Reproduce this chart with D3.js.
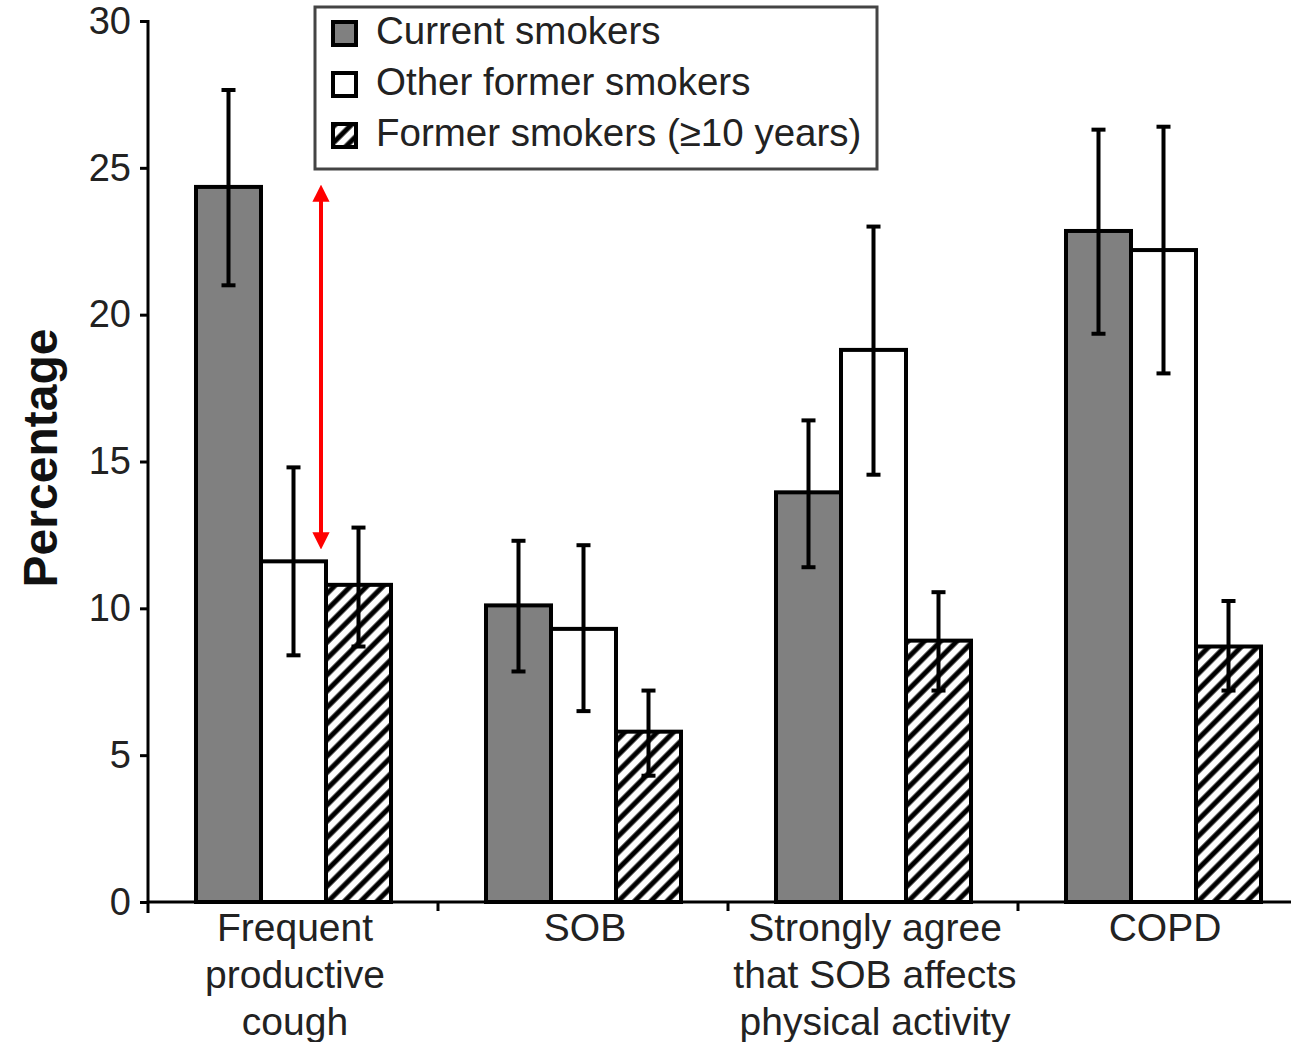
<!DOCTYPE html>
<html>
<head>
<meta charset="utf-8">
<script src="https://cdn.jsdelivr.net/npm/d3@7"></script>
<style>
  body { margin: 0; background: #fff; }
  svg { display: block; font-family: "Liberation Sans", Arial, sans-serif; }
</style>
</head>
<body>
<svg id="drawing_region"></svg>
<script>
// chart data
const categories = [
    ["Frequent", "productive", "cough"],
    ["SOB"],
    ["Strongly agree", "that SOB affects", "physical activity"],
    ["COPD"]
];
const seriesNames = ["Current smokers", "Other former smokers", "Former smokers (\u226510 years)"];
const currentVals = [24.35, 10.1, 13.95, 22.85];
const currentLow  = [21.0, 7.85, 11.4, 19.35];
const currentHigh = [27.65, 12.3, 16.4, 26.3];
const otherVals   = [11.6, 9.3, 18.8, 22.2];
const otherLow    = [8.4, 6.5, 14.55, 18.0];
const otherHigh   = [14.8, 12.15, 23.0, 26.4];
const formerVals  = [10.8, 5.8, 8.9, 8.7];
const formerLow   = [8.7, 4.3, 7.2, 7.2];
const formerHigh  = [12.75, 7.2, 10.55, 10.25];
const yTicks = [0, 5, 10, 15, 20, 25, 30];
// red double arrow (from / to, percentage) on first group
const arrowRange = [24.3, 12.2];

const config = {
    width: 1291,
    height: 1042,
    left: 148,
    right: 1308,
    top: 21,
    bottom: 902
};

const keys = ["current", "other", "former"];
const data = categories.map((c, i) => ({
    label: c,
    key: c.join(" "),
    values: [
        { s: "current", v: currentVals[i], lo: currentLow[i], hi: currentHigh[i] },
        { s: "other",   v: otherVals[i],   lo: otherLow[i],   hi: otherHigh[i] },
        { s: "former",  v: formerVals[i],  lo: formerLow[i],  hi: formerHigh[i] }
    ]
}));

const fills = { current: "#808080", other: "#ffffff", former: "url(#hatch)" };

const svg = d3.select("#drawing_region")
    .attr("width", config.width)
    .attr("height", config.height);

// hatch pattern
const hw = 11.5;
const defs = svg.append("defs");
defs.append("pattern")
    .attr("id", "hatch")
    .attr("patternUnits", "userSpaceOnUse")
    .attr("width", hw)
    .attr("height", hw)
    .attr("patternTransform", "rotate(45)")
    .call(p => {
        p.append("rect").attr("width", hw).attr("height", hw).attr("fill", "#fff");
        p.append("line").attr("x1", hw / 2).attr("y1", 0).attr("x2", hw / 2).attr("y2", hw)
            .attr("stroke", "#000").attr("stroke-width", 5);
    });
defs.append("marker")
    .attr("id", "head")
    .attr("viewBox", "0 0 10 10")
    .attr("refX", 2).attr("refY", 5)
    .attr("markerWidth", 4.3).attr("markerHeight", 4.3)
    .attr("markerUnits", "strokeWidth")
    .attr("orient", "auto-start-reverse")
    .append("path").attr("d", "M0,0 L10,5 L0,10 Z").attr("fill", "#ff0000");

const x0 = d3.scaleBand()
    .domain(data.map(d => d.key))
    .range([config.left, config.right])
    .padding(0);

const x1 = d3.scaleBand()
    .domain(keys)
    .range([48, 243])
    .padding(0);

const y = d3.scaleLinear()
    .domain([0, 30])
    .range([config.bottom, config.top]);

// bars
const groups = svg.append("g").selectAll("g")
    .data(data)
    .join("g")
    .attr("transform", d => `translate(${x0(d.key)},0)`);

groups.selectAll("rect")
    .data(d => d.values)
    .join("rect")
    .attr("x", d => x1(d.s))
    .attr("y", d => y(d.v))
    .attr("width", x1.bandwidth())
    .attr("height", d => y(0) - y(d.v))
    .attr("fill", d => fills[d.s])
    .attr("stroke", "#000")
    .attr("stroke-width", 4);

// error bars
const err = groups.selectAll("g.err")
    .data(d => d.values)
    .join("g")
    .attr("class", "err")
    .attr("stroke", "#000")
    .attr("stroke-width", 4);
const cx = d => x1(d.s) + x1.bandwidth() / 2;
err.append("line")
    .attr("x1", cx).attr("x2", cx)
    .attr("y1", d => y(d.lo)).attr("y2", d => y(d.hi));
err.append("line")
    .attr("x1", d => cx(d) - 7).attr("x2", d => cx(d) + 7)
    .attr("y1", d => y(d.hi)).attr("y2", d => y(d.hi));
err.append("line")
    .attr("x1", d => cx(d) - 7).attr("x2", d => cx(d) + 7)
    .attr("y1", d => y(d.lo)).attr("y2", d => y(d.lo));

// y axis
const yAxis = svg.append("g")
    .attr("transform", `translate(${config.left},0)`)
    .call(d3.axisLeft(y).tickValues(yTicks).tickSize(8).tickPadding(9));
yAxis.select(".domain").remove();
yAxis.append("line")
    .attr("x1", 0).attr("x2", 0)
    .attr("y1", config.top - 1).attr("y2", config.bottom + 11)
    .attr("stroke", "#000").attr("stroke-width", 3);
yAxis.selectAll(".tick line").attr("stroke-width", 3);
yAxis.selectAll(".tick text")
    .attr("font-size", 38)
    .attr("font-family", "Liberation Sans, Arial, sans-serif")
    .attr("fill", "#222");

// x axis
const xAxis = svg.append("g")
    .attr("transform", `translate(0,${config.bottom})`);
xAxis.append("line")
    .attr("x1", config.left).attr("x2", config.width)
    .attr("y1", 0).attr("y2", 0)
    .attr("stroke", "#000").attr("stroke-width", 3);
xAxis.selectAll("line.sep")
    .data(data.slice(1))
    .join("line")
    .attr("class", "sep")
    .attr("x1", d => x0(d.key)).attr("x2", d => x0(d.key))
    .attr("y1", 0).attr("y2", 9)
    .attr("stroke", "#000").attr("stroke-width", 3);

const catLabels = xAxis.selectAll("text.cat")
    .data(data)
    .join("text")
    .attr("class", "cat")
    .attr("text-anchor", "middle")
    .attr("font-size", 39)
    .attr("fill", "#222");
catLabels.selectAll("tspan")
    .data(d => d.label.map(t => ({ t, x: x0(d.key) + x0.bandwidth() / 2 + 2 })))
    .join("tspan")
    .attr("x", d => d.x)
    .attr("y", (d, i) => 39 + i * 47)
    .text(d => d.t);

// y label
svg.append("text")
    .attr("transform", `translate(57,${458}) rotate(-90)`)
    .attr("text-anchor", "middle")
    .attr("font-size", 48)
    .attr("font-weight", "bold")
    .attr("fill", "#111")
    .text("Percentage");

// red arrow
const ax = x0(data[0].key) + x1("other") + x1.bandwidth() - 5;
svg.append("line")
    .attr("x1", ax).attr("x2", ax)
    .attr("y1", y(arrowRange[0]) + 10)
    .attr("y2", y(arrowRange[1]) - 8)
    .attr("stroke", "#ff0000")
    .attr("stroke-width", 4)
    .attr("marker-start", "url(#head)")
    .attr("marker-end", "url(#head)");

// legend
const legend = svg.append("g").attr("transform", "translate(315,7)");
legend.append("rect")
    .attr("width", 562).attr("height", 162)
    .attr("fill", "#fff")
    .attr("stroke", "#444")
    .attr("stroke-width", 3);
const items = legend.selectAll("g.item")
    .data(keys)
    .join("g")
    .attr("class", "item")
    .attr("transform", (d, i) => `translate(18,${26 + i * 51})`);
items.append("rect")
    .attr("x", 0).attr("y", -11)
    .attr("width", 23).attr("height", 23)
    .attr("fill", d => fills[d])
    .attr("stroke", "#000")
    .attr("stroke-width", 4);
items.append("text")
    .attr("x", 43)
    .attr("y", 1)
    .attr("dominant-baseline", "middle")
    .attr("font-size", 38.5)
    .attr("fill", "#222")
    .text((d, i) => seriesNames[i]);
</script>
</body>
</html>
